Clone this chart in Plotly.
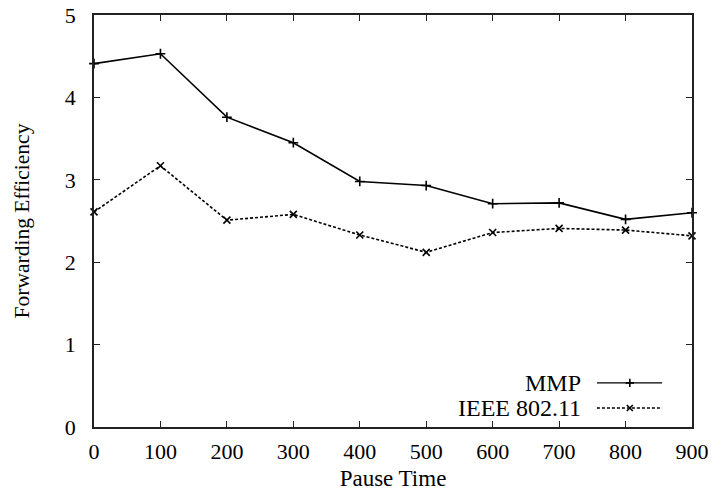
import plotly.graph_objects as go

pause_time = [0, 100, 200, 300, 400, 500, 600, 700, 800, 900]
mmp = [4.41, 4.53, 3.76, 3.45, 2.98, 2.93, 2.71, 2.72, 2.52, 2.60]
ieee = [2.61, 3.17, 2.51, 2.58, 2.33, 2.12, 2.36, 2.41, 2.39, 2.32]
series_names = ["MMP", "IEEE 802.11"]
x_ticks = [0, 100, 200, 300, 400, 500, 600, 700, 800, 900]
y_ticks = [0, 1, 2, 3, 4, 5]

FONT = "Liberation Serif, Times New Roman, serif"
styles = [
    dict(dash="solid", symbol="cross-thin-open"),
    dict(dash="3px,2px", symbol="x-thin-open"),
]

fig = go.Figure()
for name, vals, st in zip(series_names, [mmp, ieee], styles):
    fig.add_trace(go.Scatter(
        x=pause_time, y=vals, mode="lines+markers", name=name,
        line=dict(color="black", width=1.6, dash=st["dash"]),
        marker=dict(symbol=st["symbol"], size=7, color="black",
                    line=dict(color="black", width=1.6)),
        showlegend=False, cliponaxis=False,
    ))

# custom legend (text left of sample, like gnuplot)
leg_y = [0.107, 0.046]
for name, st, ly in zip(series_names, styles, leg_y):
    fig.add_trace(go.Scatter(
        x=[0.841, 0.896, 0.950], y=[ly, ly, ly], xaxis="x2", yaxis="y2",
        mode="lines", line=dict(color="black", width=1.4, dash=st["dash"]),
        showlegend=False, hoverinfo="skip",
    ))
    fig.add_trace(go.Scatter(
        x=[0.896], y=[ly], xaxis="x2", yaxis="y2", mode="markers",
        marker=dict(symbol=st["symbol"], size=6, color="black",
                    line=dict(color="black", width=1.6)),
        showlegend=False, hoverinfo="skip",
    ))
    fig.add_annotation(x=0.818, y=ly, xref="paper", yref="paper",
                       text=name, showarrow=False, xanchor="right",
                       yanchor="middle",
                       font=dict(family=FONT, size=24, color="black"))

axis_common = dict(
    showline=True, linecolor="#222", linewidth=1.5, mirror="ticks",
    ticks="inside", ticklen=6, tickwidth=1.2, tickcolor="#222",
    showgrid=False, zeroline=False, automargin=False,
    ticklabeloverflow="allow",
    tickfont=dict(family=FONT, size=22, color="black"),
)

fig.update_layout(
    width=726, height=498,
    margin=dict(l=94, r=34, t=15, b=71),
    plot_bgcolor="white", paper_bgcolor="white",
    xaxis=dict(range=[0, 900], tickvals=x_ticks, ticklabelstandoff=4,
               title=dict(text="Pause Time", standoff=7,
                          font=dict(family=FONT, size=23, color="black")),
               **axis_common),
    yaxis=dict(range=[0, 5], tickvals=y_ticks, ticklabelstandoff=12,
               title=dict(text="Forwarding Efficiency", standoff=29,
                          font=dict(family=FONT, size=21.5, color="black")),
               **axis_common),
    xaxis2=dict(overlaying="x", range=[0, 1], visible=False, fixedrange=True),
    yaxis2=dict(overlaying="y", range=[0, 1], visible=False, fixedrange=True),
)

fig.write_html("out.html", config={"displayModeBar": False},
               post_script="document.body.style.margin='0';")
